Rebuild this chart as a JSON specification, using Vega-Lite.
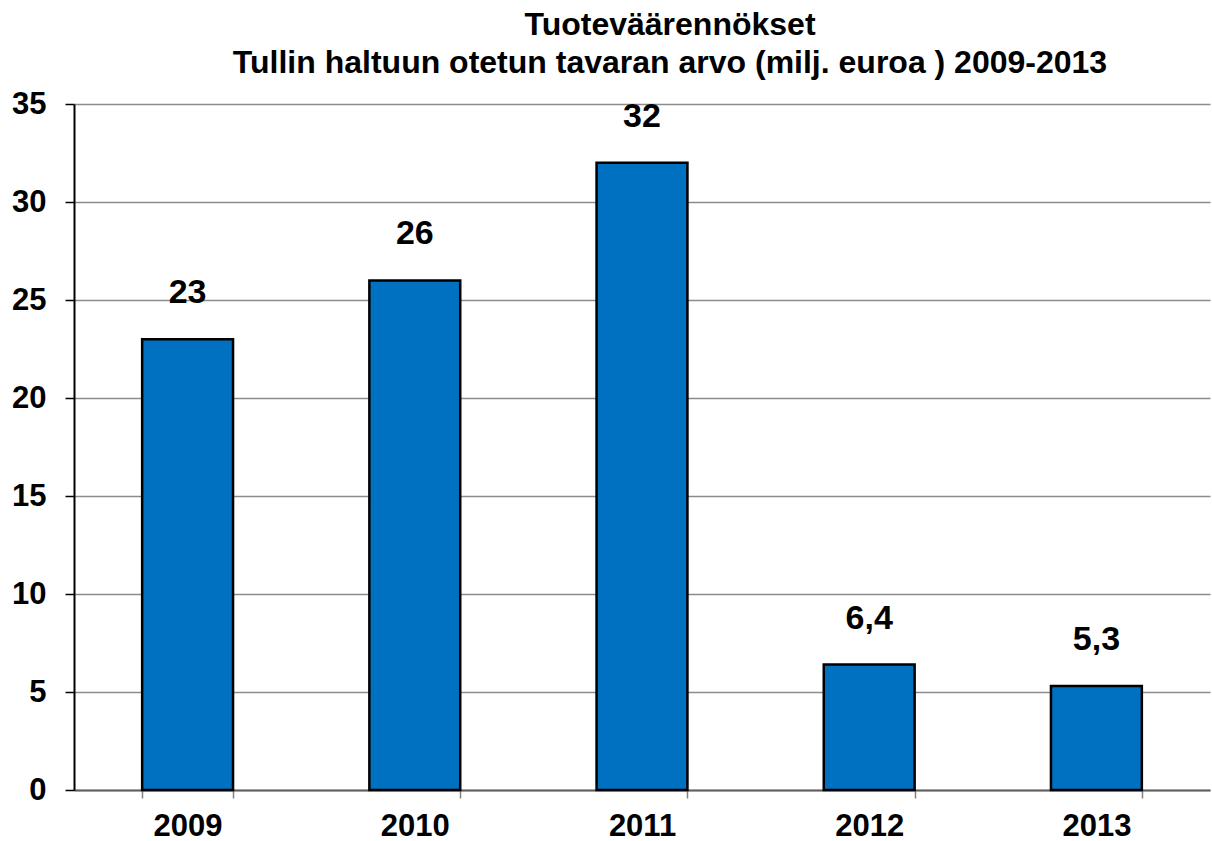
{
  "$schema": "https://vega.github.io/schema/vega-lite/v6.json",
  "autosize": {"type": "none"},
  "width": 1136,
  "height": 686,
  "padding": {"left": 74, "top": 104, "right": 2, "bottom": 51},
  "background": "white",
  "title": {
    "text": ["Tuoteväärennökset", "Tullin haltuun otetun tavaran arvo (milj. euroa ) 2009-2013"],
    "font": "Liberation Sans",
    "fontSize": 32,
    "fontWeight": "bold",
    "color": "black",
    "lineHeight": 38,
    "anchor": "middle",
    "dx": 28,
    "offset": 8
  },
  "config": {
    "locale": {"number": {"decimal": ",", "thousands": " ", "grouping": [3], "currency": ["", " €"]}},
    "view": {"stroke": null},
    "font": "Liberation Sans"
  },
  "data": {
    "values": [
      {"year": "2009", "value": 23},
      {"year": "2010", "value": 26},
      {"year": "2011", "value": 32},
      {"year": "2012", "value": 6.4},
      {"year": "2013", "value": 5.3}
    ]
  },
  "encoding": {
    "x": {
      "field": "year",
      "type": "ordinal",
      "scale": {"paddingInner": 0.6, "paddingOuter": 0.3},
      "axis": {
        "title": null,
        "labelAngle": 0,
        "labelFont": "Liberation Sans",
        "labelFontSize": 31,
        "labelFontWeight": "bold",
        "labelColor": "black",
        "labelPadding": 13,
        "tickBand": "extent",
        "tickSize": 8,
        "tickColor": "#808080",
        "tickWidth": 1.5,
        "domainColor": "#606060",
        "domainWidth": 2,
        "grid": false
      }
    },
    "y": {
      "field": "value",
      "type": "quantitative",
      "scale": {"domain": [0, 35], "nice": false},
      "axis": {
        "title": null,
        "values": [0, 5, 10, 15, 20, 25, 30, 35],
        "labelFont": "Liberation Sans",
        "labelFontSize": 31,
        "labelFontWeight": "bold",
        "labelColor": "black",
        "labelPadding": 19,
        "tickSize": 9,
        "tickColor": "black",
        "tickWidth": 1.5,
        "domainColor": "black",
        "domainWidth": 2,
        "grid": true,
        "gridColor": "#8c8c8c",
        "gridWidth": 1.5
      }
    }
  },
  "layer": [
    {
      "mark": {"type": "bar", "color": "#0070C0", "stroke": "black", "strokeWidth": 2.5}
    },
    {
      "mark": {
        "type": "text",
        "baseline": "alphabetic",
        "dy": -36,
        "font": "Liberation Sans",
        "fontSize": 34,
        "fontWeight": "bold",
        "color": "black"
      },
      "encoding": {
        "text": {"field": "value", "type": "quantitative", "format": "~g"}
      }
    }
  ]
}
